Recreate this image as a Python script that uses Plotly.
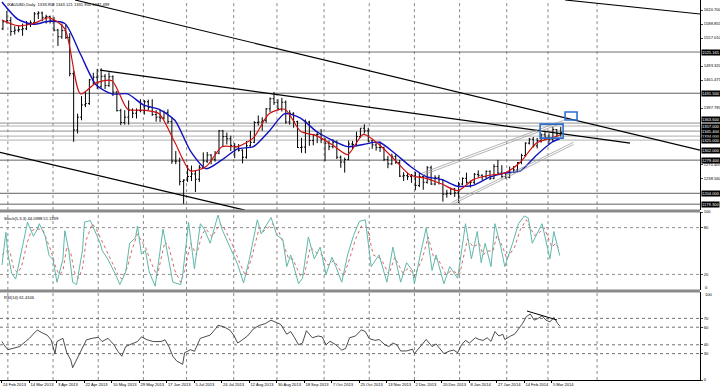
import plotly.graph_objects as go
from plotly.subplots import make_subplots

# ---------------- data ----------------
header_text = "XAUUSD,Daily  1333.958 1343.121 1331.950 1342.499"
stoch_text = "Stoch(5,3,3) 44.0398 51.1339"
rsi_text = "RSI(14) 61.4106"

# price bars, each entry covers two daily bars (bar index 2k, 2k+1)
opens = [1578,1594,1597,1572,1575,1576,1578, 1588,1592,1612,1614,1604,1606,1597,
         1575,1560,1574,1558,1476,1348,1377, 1405,1408,1462,1468,1446,1470,1449,
         1469,1434,1392,1365,1377,1393,1386, 1392,1392,1412,1399,1383,1377,1375,
         1388,1367,1277,1277,1231,1234,1242, 1248,1236,1263,1277,1291,1281,1295,
         1346,1333,1328,1313,1310,1302,1286, 1312,1320,1365,1366,1370,1396,1419,
         1410,1396,1411,1366,1386,1367,1308, 1309,1366,1324,1337,1338,1327,1318,
         1310,1320,1286,1275,1281,1316,1315, 1333,1352,1346,1323,1314,1308,1308,
         1281,1271,1288,1274,1243,1244,1242, 1245,1222,1242,1229,1262,1225,1240,
         1235,1202,1204,1214,1205,1225,1238, 1229,1229,1247,1245,1242,1254,1238,
         1265,1250,1242,1240,1251,1257,1274, 1290,1318,1327,1312,1324,1337,1331,
         1326,1349,1339]
highs = [1598,1619,1605,1584,1586,1590,1596, 1597,1616,1618,1617,1610,1608,1605,
         1578,1590,1588,1568,1482,1385,1425, 1434,1464,1478,1487,1488,1475,1479,
         1472,1437,1396,1393,1415,1397,1397, 1418,1416,1417,1418,1393,1394,1392,
         1395,1375,1300,1285,1236,1268,1267, 1256,1268,1297,1298,1293,1300,1348,
         1348,1342,1335,1318,1316,1304,1323, 1346,1368,1381,1377,1398,1422,1434,
         1418,1421,1415,1393,1388,1369,1330, 1372,1369,1338,1345,1350,1330,1324,
         1327,1324,1290,1285,1324,1323,1344, 1352,1361,1353,1326,1320,1322,1310,
         1289,1294,1292,1280,1252,1251,1248, 1253,1250,1244,1266,1267,1245,1246,
         1236,1212,1217,1216,1230,1240,1251, 1233,1250,1256,1247,1256,1256,1270,
         1280,1268,1251,1265,1266,1275,1294, 1320,1330,1332,1330,1340,1345,1340,
         1355,1350,1355]
lows = [1575,1590,1562,1565,1570,1562,1575, 1582,1590,1600,1595,1590,1590,1572,
        1539,1555,1555,1470,1321,1340,1370, 1400,1405,1450,1441,1444,1441,1446,
        1425,1390,1359,1360,1360,1375,1374, 1388,1383,1393,1380,1367,1366,1372,
        1362,1271,1270,1222,1180,1230,1232, 1207,1230,1260,1273,1270,1276,1293,
        1310,1315,1300,1284,1299,1272,1283, 1310,1318,1358,1346,1364,1388,1405,
        1392,1390,1362,1360,1353,1307,1296, 1295,1312,1313,1318,1318,1277,1302,
        1306,1282,1262,1251,1279,1305,1313, 1330,1340,1320,1305,1301,1298,1277,
        1261,1268,1271,1241,1232,1234,1228, 1211,1218,1212,1226,1223,1222,1224,
        1185,1194,1200,1196,1182,1222,1226, 1217,1225,1240,1234,1238,1234,1236,
        1248,1238,1237,1238,1250,1253,1270, 1287,1315,1308,1306,1319,1325,1316,
        1321,1333,1333]
closes = [1594,1597,1572,1575,1576,1578,1588, 1592,1612,1614,1604,1606,1597,1575,
          1560,1574,1558,1476,1348,1377,1405, 1408,1462,1468,1446,1470,1449,1469,
          1434,1392,1365,1377,1393,1386,1392, 1392,1412,1399,1383,1377,1375,1388,
          1367,1277,1277,1231,1234,1242,1248, 1236,1263,1277,1291,1281,1295,1346,
          1333,1328,1313,1310,1302,1286,1312, 1320,1365,1366,1370,1396,1419,1410,
          1396,1411,1366,1386,1367,1308,1309, 1366,1324,1337,1338,1327,1318,1310,
          1320,1286,1275,1281,1316,1315,1333, 1352,1346,1323,1314,1308,1308,1281,
          1271,1288,1274,1243,1244,1242,1245, 1222,1242,1229,1262,1225,1240,1235,
          1202,1204,1214,1205,1225,1238,1229, 1229,1247,1245,1242,1254,1238,1265,
          1250,1242,1240,1251,1257,1274,1290, 1318,1327,1312,1324,1337,1331,1326,
          1349,1339,1342]
bar_x = [2 * k + 0.5 for k in range(len(closes))]

# moving averages (read at every 8th bar)
ma_x = [0,8,16,24,32,40,48,56,64,72,80,88,96,104,112,120,128,136,144,152,160,
        168,176,184,192,200,208,216,224,232,240,248,256,264,272,280,284]
ma_fast = [1598,1585,1590,1603,1578,1430,1455,1460,1395,1393,1385,1320,1255,1265,
           1310,1310,1330,1385,1395,1345,1335,1315,1292,1338,1315,1280,1245,1238,
           1225,1210,1235,1245,1250,1275,1318,1330,1336]
ma_slow = [1639,1600,1588,1595,1590,1520,1450,1430,1430,1405,1395,1370,1300,1260,
           1280,1305,1310,1345,1385,1375,1345,1325,1310,1315,1320,1295,1265,1242,
           1235,1220,1222,1240,1250,1255,1290,1320,1328]

# stochastic main line and signal line
stoch_k_x = [0,2,3,5,7,9,12,13,16,18,19,22,24,26,28,31,32,34,36,38,41,42,45,47,50,51,
             54,58,60,63,65,68,69,71,73,75,78,80,82,84,87,91,92,95,98,101,103,106,110,
             112,116,120,123,126,130,132,137,140,143,145,147,151,153,156,159,162,165,
             168,170,173,176,179,182,185,188,192,196,199,203,206,209,210,213,216,219,
             221,225,228,232,236,239,242,244,246,249,251,254,256,260,263,266,268,270,
             272,275,279,281,284]
stoch_k = [32,74,46,21,14,37,74,87,69,78,85,69,44,39,10,39,76,51,10,7,51,87,89,78,60,51,
           39,19,7,23,60,67,82,46,51,23,5,41,78,51,10,7,19,87,27,85,78,60,96,
           78,55,33,9,40,90,72,93,70,65,30,45,8,15,68,40,55,20,
           42,30,10,45,70,88,90,30,45,10,55,10,35,25,8,45,80,25,
           45,8,30,15,85,40,75,35,60,30,85,55,30,60,85,95,92,60,
           70,85,40,75,44]
stoch_d_x = [0,2,4,6,8,10,13,15,17,19,21,23,25,27,29,31,33,35,37,39,41,43,46,48,51,53,
             56,59,61,64,66,69,71,73,76,79,81,83,85,88,91,93,96,99,102,104,107,111,113,
             117,121,124,127,131,133,138,141,144,146,148,152,154,157,160,163,166,169,
             171,174,177,180,183,186,189,193,197,200,204,207,210,214,217,220,222,226,
             229,233,237,240,243,245,247,250,252,255,257,261,264,267,269,271,273,276,
             280,282,284]
stoch_d = [45,50,50,27,22,30,62,76,78,78,76,64,50,32,20,24,55,48,22,15,28,65,85,78,62,50,
           36,20,14,30,50,72,63,55,35,18,40,62,55,25,10,25,60,45,72,78,68,85,80,
           60,35,18,40,80,75,85,75,55,40,40,18,20,55,48,45,32,38,
           30,18,40,65,82,80,45,40,20,42,22,28,18,40,68,40,40,20,
           25,20,65,55,60,45,50,50,70,55,40,55,78,90,80,70,72,80,
           55,60,51]

# RSI(14)
rsi_x = [0,1,3,6,9,12,14,17,18,21,23,25,27,28,30,31,33,35,36,38,40,43,46,49,51,54,57,
         59,61,63,65,69,71,74,77,81,83,85,87,89,92,93,96,98,101,103,106,109,110,113,
         116,118,120,122,125,128,131,134,137,139,142,145,147,149,151,153,155,158,161,
         163,165,167,170,173,175,177,180,183,185,187,190,192,195,197,199,201,203,206,
         209,210,213,216,219,221,225,228,230,232,234,236,238,241,243,245,247,249,251,
         253,255,256,259,261,263,265,267,269,271,273,275,277,279,281,283,284]
rsi_v = [43.7,40,34.4,36.3,38,43.7,47.4,54.8,56.7,53,51,45.6,30,43.7,45.6,47.4,31,23,14,
         23,32.6,45.6,47.4,48.5,43.7,47.4,40,32.6,27,38,40,43.7,49,45.6,43.7,43.7,45.6,38,
         27,21.5,17.8,31,34.4,32.6,47.4,49,51,58.9,62.2,60.4,56.7,51,42,45,50,58,62,64,68,
         66,63,52,55,48,40,42,56,48,50,49,40,44,40,34,36,48,50,57,55,47,45,46,40,38,42,40,
         33,33,35,30,38,46,38,41,30,33,34,31,40,45,42,48,46,45,48,44,55,50,52,46,50,52,58,
         64,72,75,68,70,73,68,66,71,64,61.4]

# x-axis labels every 14 bars, month grid lines
date_labels = ["24 Feb 2013", "14 Mar 2013", "3 Apr 2013", "22 Apr 2013", "10 May 2013",
               "29 May 2013", "17 Jun 2013", "5 Jul 2013", "24 Jul 2013", "12 Aug 2013",
               "30 Aug 2013", "18 Sep 2013", "7 Oct 2013", "25 Oct 2013", "13 Nov 2013",
               "2 Dec 2013", "20 Dec 2013", "8 Jan 2014", "27 Jan 2014", "14 Feb 2014",
               "5 Mar 2014"]
label_step = 14
month_starts = [3, 26, 49, 72, 94, 118, 140, 164, 187, 210, 233, 257, 278, 303]

# price axis
price_ticks = [1620.700, 1588.855, 1557.010, 1493.320, 1461.475, 1397.785,
               1270.405, 1238.560]
h_levels = [1525.165, 1431.500, 1363.600, 1357.000, 1345.400, 1334.000, 1325.000,
            1279.400, 1204.000, 1179.300]
h_colors = ["#707070", "#606060", "#909090", "#b0b0b0", "#909090", "#b0b0b0", "#b0b0b0",
            "#606060", "#606060", "#606060"]
h_label_anchor = ["middle", "middle", "bottom", "middle", "middle", "middle", "middle",
                  "middle", "middle", "middle"]
trend_label = 1302.0

# indicator scale labels
stoch_ticks = [20, 80, 100]
rsi_ticks = [0, 30, 40, 60, 70]

# drawn trend lines: (bar0, price0, bar1, price1)
trend_lines = [
    (37.2, 1643.4, 355.4, 1302.0),
    (49.9, 1484.2, 319.8, 1318.1),
    (286.7, 1643.4, 355.4, 1611.6),
    (-1.0, 1297.0, 123.7, 1165.7),
]
channel_lines = [
    (214.0, 1250.0, 286.0, 1370.0),
    (214.0, 1245.0, 286.0, 1365.0),
    (229.0, 1183.0, 291.0, 1320.0),
    (229.0, 1178.0, 291.0, 1315.0),
]
boxes = [(274.0, 1329.5, 285.7, 1361.3), (286.7, 1370.5, 292.8, 1388.7)]
rsi_trend = (267.3, 78.4, 282.6, 68.2)

# ---------------- figure ----------------
FONT = "Liberation Sans"
FS = 4.1
fig = make_subplots(rows=3, cols=1, shared_xaxes=True, vertical_spacing=0.0)

fig.add_trace(go.Ohlc(x=bar_x, open=opens, high=highs, low=lows, close=closes,
                      increasing=dict(line=dict(color="black", width=1)),
                      decreasing=dict(line=dict(color="black", width=1)),
                      tickwidth=0.35, hoverinfo="skip"), row=1, col=1)
fig.add_trace(go.Scatter(x=ma_x, y=ma_slow, mode="lines",
                         line=dict(color="#1010c0", width=1.4, shape="spline", smoothing=0.7),
                         hoverinfo="skip"), row=1, col=1)
fig.add_trace(go.Scatter(x=ma_x, y=ma_fast, mode="lines",
                         line=dict(color="#d01010", width=1.2, shape="spline", smoothing=0.7),
                         hoverinfo="skip"), row=1, col=1)
fig.add_trace(go.Scatter(x=stoch_d_x, y=stoch_d, mode="lines",
                         line=dict(color="#d04040", width=0.8, dash="dot"),
                         hoverinfo="skip"), row=2, col=1)
fig.add_trace(go.Scatter(x=stoch_k_x, y=stoch_k, mode="lines",
                         line=dict(color="#5fb8aa", width=1), hoverinfo="skip"), row=2, col=1)
fig.add_trace(go.Scatter(x=rsi_x, y=rsi_v, mode="lines",
                         line=dict(color="#202020", width=0.8), hoverinfo="skip"), row=3, col=1)

shapes = []
for m in month_starts:
    for xr_, yr_ in [("x", "y domain"), ("x2", "y2 domain"), ("x3", "y3 domain")]:
        shapes.append(dict(type="line", xref=xr_, yref=yr_, x0=m, x1=m, y0=0, y1=1,
                           line=dict(color="#8a8a8a", width=1, dash="dot"), layer="below"))
for lv, c in zip(h_levels, h_colors):
    shapes.append(dict(type="line", xref="x domain", yref="y", x0=0, x1=1, y0=lv, y1=lv,
                       line=dict(color=c, width=1), layer="below"))
for (a0, p0, a1, p1) in trend_lines:
    shapes.append(dict(type="line", xref="x", yref="y", x0=a0, y0=p0, x1=a1, y1=p1,
                       line=dict(color="black", width=1.2)))
for (a0, p0, a1, p1) in channel_lines:
    shapes.append(dict(type="line", xref="x", yref="y", x0=a0, y0=p0, x1=a1, y1=p1,
                       line=dict(color="#a0a0a0", width=0.8)))
for (a0, p0, a1, p1) in boxes:
    shapes.append(dict(type="rect", xref="x", yref="y", x0=a0, y0=p0, x1=a1, y1=p1,
                       line=dict(color="#2a6fd0", width=1.6)))
shapes.append(dict(type="line", xref="x3", yref="y3", x0=rsi_trend[0], y0=rsi_trend[1],
                   x1=rsi_trend[2], y1=rsi_trend[3], line=dict(color="black", width=1)))
for lv in [20, 80]:
    shapes.append(dict(type="line", xref="x2 domain", yref="y2", x0=0, x1=1, y0=lv, y1=lv,
                       line=dict(color="#909090", width=1, dash="dot"), layer="below"))
for lv in [30, 40, 60, 70]:
    shapes.append(dict(type="line", xref="x3 domain", yref="y3", x0=0, x1=1, y0=lv, y1=lv,
                       line=dict(color="#707070", width=1, dash="dot"), layer="below"))
for yy in [0.4447, 0.2342]:
    shapes.append(dict(type="line", xref="paper", yref="paper", x0=0, x1=1, y0=yy, y1=yy,
                       line=dict(color="#8a8a8a", width=3)))

annotations = [
    dict(text=header_text, xref="paper", yref="paper", x=0.008, y=1.0, xanchor="left",
         yanchor="top", showarrow=False, font=dict(family=FONT, size=FS, color="black")),
    dict(text=stoch_text, xref="paper", yref="paper", x=0.003, y=0.437, xanchor="left",
         yanchor="top", showarrow=False, font=dict(family=FONT, size=FS, color="black")),
    dict(text=rsi_text, xref="paper", yref="paper", x=0.003, y=0.228, xanchor="left",
         yanchor="top", showarrow=False, font=dict(family=FONT, size=FS, color="black")),
    dict(text="0", xref="paper", yref="paper", x=1.004, y=0.2447, xanchor="left",
         yanchor="middle", showarrow=False, font=dict(family=FONT, size=FS, color="black")),
    dict(text="100", xref="paper", yref="paper", x=1.004, y=0.2237, xanchor="left",
         yanchor="middle", showarrow=False, font=dict(family=FONT, size=FS, color="black")),
]
for lv, anc in zip(h_levels + [trend_label], h_label_anchor + ["middle"]):
    annotations.append(dict(text="%.3f" % lv, xref="paper", yref="y", x=1.002, y=lv,
                            xanchor="left", yanchor=anc, showarrow=False,
                            bgcolor="black", borderpad=0,
                            font=dict(family=FONT, size=FS, color="white")))

fig.update_layout(
    width=720, height=389, margin=dict(l=0, r=20, t=0, b=9, autoexpand=False),
    paper_bgcolor="white", plot_bgcolor="white", showlegend=False,
    shapes=shapes, annotations=annotations,
    font=dict(family=FONT, size=FS, color="black"),
)
xr = [-1, 355.4]
fig.update_xaxes(range=xr, showgrid=False, zeroline=False, showticklabels=False,
                 rangeslider_visible=False, automargin=False)
fig.update_xaxes(row=3, col=1, showticklabels=True,
                 tickvals=[label_step * i for i in range(len(date_labels))],
                 ticktext=date_labels, ticks="outside", ticklen=2, tickcolor="black",
                 tickangle=0, ticklabelposition="outside right", showline=True,
                 linecolor="black", tickfont=dict(family=FONT, size=FS))

axis_common = dict(side="right", showgrid=False, zeroline=False, ticks="outside", ticklen=2,
                   showline=True, linecolor="black", automargin=False,
                   tickfont=dict(family=FONT, size=FS))
fig.update_layout(
    yaxis=dict(domain=[0.447, 1.0], range=[1165.7, 1643.45],
               tickvals=price_ticks, ticktext=["%.3f" % t for t in price_ticks], **axis_common),
    yaxis2=dict(domain=[0.2368, 0.4421], range=[0, 100],
                tickvals=stoch_ticks, ticktext=[str(t) for t in stoch_ticks], **axis_common),
    yaxis3=dict(domain=[0.0, 0.2316], range=[0, 100],
                tickvals=rsi_ticks, ticktext=[str(t) for t in rsi_ticks], **axis_common),
)

fig.write_html("out.html", config={"displayModeBar": False, "staticPlot": True},
               post_script="document.body.style.margin='0';document.body.style.overflow='hidden';")
